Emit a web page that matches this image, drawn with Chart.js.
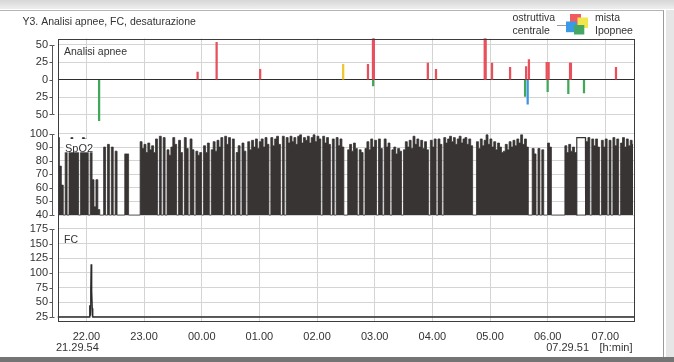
<!DOCTYPE html>
<html>
<head>
<meta charset="utf-8">
<script src="https://cdn.jsdelivr.net/npm/chart.js@4.4.1/dist/chart.umd.min.js"></script>
<style>
  html, body { margin: 0; padding: 0; background: #fff; }
  #wrap { position: relative; width: 674px; height: 362px; overflow: hidden; background: #fff; }
  .topband { position: absolute; left: 0; top: 0; width: 674px; height: 9px; background: linear-gradient(#d6d6d6, #eeeeee); }
  .frame { position: absolute; left: -2px; top: 10px; width: 665px; height: 352px; border-top: 1px solid #b4b4b4; border-right: 1px solid #9a9a9a; }
  .side { position: absolute; left: 666px; top: 10px; width: 8px; height: 352px; background: #e6e6e6; }
  .bottomband { position: absolute; left: 0; top: 357px; width: 674px; height: 5px; background: #747474; }
  canvas { position: absolute; left: 0; top: 0; }
</style>
</head>
<body>
<div id="wrap">
  <div class="topband"></div>
  <div class="frame"></div>
  <div class="side"></div>
  <div class="bottomband"></div>
  <canvas id="chart" width="674" height="362"></canvas>
</div>
<script>
// time axis, minutes from the start of the recording
const spanMinutes = 599.95;           // 21.29.54 -> 07.29.51
const firstHourAt = 30.1;             // 22.00
const hourLabels = ['22.00', '23.00', '00.00', '01.00', '02.00', '03.00', '04.00', '05.00', '06.00', '07.00'];
const startLabel = '21.29.54';
const endLabel = '07.29.51';
const unitLabel = '[h:min]';

const apneaTicks = [-50, -25, 0, 25, 50];
const spo2Ticks = [40, 50, 60, 70, 80, 90, 100];
const fcTicks = [25, 50, 75, 100, 125, 150, 175];

// apnea events: time (min), duration (s); central / hypopnea drawn below zero
const ostruttivaTime = [145.8, 165.6, 210.9, 323.1, 328.3, 329.2, 385.4, 393.9, 444.6, 445.6, 452.2, 471.0, 487.7, 490.6, 509.1, 511.1, 533.4, 534.3, 581.2];
const ostruttivaSec = [11, 54, 15, 22, 70, 70, 24, 15, 70, 70, 24, 18, 19, 29, 25, 25, 24, 24, 18];
const mistaTime = [297.3];
const mistaSec = [22];
const centraleTime = [489.3];
const centraleSec = [-35];
const ipopneeTime = [43.3, 328.5, 486.6, 510.1, 531.6, 547.9];
const ipopneeSec = [-59, -9, -24, -17, -20, -19];

// SpO2 (%), one reading every 2 minutes
const spo2Step = 2;
const spo2 = [
  97, 76, 62, 40, 90, 40, 89, 97, 88, 90,
  89, 40, 91, 97, 96, 88, 40, 89, 66, 46,
  66, 44, 40, 40, 90, 40, 92, 40, 90, 40,
  87, 40, 40, 40, 40, 85, 85, 40, 40, 40,
  40, 40, 40, 94, 89, 92, 86, 93, 88, 91,
  86, 96, 40, 98, 40, 97, 40, 88, 84, 90,
  97, 92, 40, 95, 86, 40, 97, 89, 40, 96,
  88, 40, 87, 84, 86, 40, 91, 86, 93, 40,
  88, 94, 87, 95, 90, 97, 40, 98, 92, 97,
  40, 96, 40, 86, 91, 40, 93, 87, 40, 94,
  88, 95, 90, 96, 89, 94, 96, 90, 97, 92,
  40, 97, 91, 96, 98, 92, 40, 98, 40, 97,
  93, 98, 94, 97, 92, 98, 99, 93, 97, 95,
  98, 93, 97, 99, 94, 98, 96, 40, 98, 93,
  97, 92, 40, 96, 40, 97, 91, 96, 90, 40,
  40, 88, 92, 87, 93, 89, 40, 88, 86, 40,
  89, 94, 88, 96, 90, 95, 40, 96, 89, 40,
  96, 90, 93, 40, 88, 90, 85, 89, 87, 40,
  88, 94, 90, 95, 89, 98, 92, 96, 90, 95,
  89, 94, 88, 40, 95, 90, 96, 40, 96, 92,
  40, 97, 93, 96, 98, 94, 97, 92, 96, 98,
  93, 96, 97, 92, 96, 91, 40, 40, 94, 89,
  96, 91, 95, 99, 92, 96, 90, 94, 88, 93,
  90, 86, 87, 92, 88, 94, 90, 95, 91, 96,
  93, 99, 92, 96, 90, 40, 40, 89, 85, 40,
  89, 40, 88, 40, 40, 93, 90, 40, 40, 40,
  40, 40, 40, 40, 91, 86, 92, 87, 90, 86,
  40, 40, 40, 40, 40, 94, 97, 40, 96, 91,
  96, 90, 40, 95, 90, 96, 40, 95, 40, 97,
  91, 96, 40, 93, 97, 90, 96, 91, 95, 92
];
// stretch where the oximeter holds its last value
const spo2HoldTime = [540.2, 540.4, 549.4, 549.6];
const spo2HoldValue = [40, 97, 97, 40];

// heart rate (bpm)
const fcTime = [0, 32.8, 33.3, 33.8, 34.2, 34.6, 35.0, 35.4, 35.8, 36.2, 36.7, spanMinutes];
const fcValue = [25, 25, 30, 45, 28, 72, 115, 60, 70, 40, 25, 25];

const FONT = "'Liberation Sans', Arial, sans-serif";
const INK = '#333';
const GRID = '#d4d4d4';
const TRACE = '#383434';

Chart.defaults.font.family = FONT;
Chart.defaults.font.size = 11;
Chart.defaults.color = INK;

const pairs = (xs, ys) => xs.map((x, i) => ({ x, y: ys[i] }));

const events = (label, xs, ys, color) => ({
  type: 'bar',
  label,
  yAxisID: 'yA',
  data: pairs(xs, ys),
  backgroundColor: color,
  borderWidth: 0,
  barThickness: 1.6,
  grouped: false,
});

const yAxis = (ticks, min, max, weight, gridColor) => ({
  type: 'linear',
  position: 'left',
  stack: 'panels',
  stackWeight: weight,
  min,
  max,
  afterBuildTicks: (s) => { s.ticks = ticks.map((v) => ({ value: v })); },
  afterFit: (s) => { s.width = 57.5; },
  ticks: { autoSkip: false, padding: 9.5, callback: (v) => Math.abs(v) },
  grid: { color: gridColor || GRID, drawTicks: false },
  border: { display: false },
});

const panelDecor = {
  id: 'panelDecor',
  afterDatasetsDraw(chart) {
    const { ctx, chartArea: a, scales } = chart;
    ctx.save();
    ctx.font = '10.5px ' + FONT;
    ctx.fillStyle = INK;
    ctx.textBaseline = 'middle';
    ctx.textAlign = 'left';
    ctx.fillText('Analisi apnee', a.left + 6.5, scales.yA.top + 13.5);
    ctx.fillText('FC', a.left + 6.5, scales.yF.top + 18);
    // the SpO2 label sits on a white box over the trace
    ctx.fillStyle = '#fff';
    ctx.fillRect(a.left + 6, scales.yS.top + 15, 30, 13.3);
    ctx.fillStyle = INK;
    ctx.font = '11px ' + FONT;
    ctx.fillText('SpO2', a.left + 7.5, scales.yS.top + 24.5);
    // plot frame
    ctx.strokeStyle = '#3c3c3c';
    ctx.lineWidth = 1;
    ctx.strokeRect(Math.round(a.left) + 0.5, Math.round(a.top) + 0.5, Math.round(a.width) - 1, Math.round(a.height) - 1);
    ctx.restore();
  },
  afterDraw(chart) {
    const { ctx, chartArea: a, scales } = chart;
    ctx.save();
    // bracket style value axes
    ctx.strokeStyle = '#555';
    ctx.lineWidth = 1;
    const x0 = Math.round(a.left - 5.5) + 0.5;
    for (const id of ['yA', 'yS', 'yF']) {
      const s = scales[id];
      const px = s.ticks.map((t) => Math.round(s.getPixelForValue(t.value)) + 0.5);
      const top = Math.min(...px);
      const bot = Math.max(...px);
      ctx.beginPath();
      ctx.moveTo(x0 + 2, top);
      ctx.lineTo(x0, top);
      ctx.lineTo(x0, bot);
      ctx.lineTo(x0 + 2, bot);
      for (const p of px) {
        ctx.moveTo(x0 - 3, p);
        ctx.lineTo(x0, p);
      }
      ctx.stroke();
    }

    ctx.fillStyle = INK;
    ctx.textBaseline = 'middle';
    ctx.font = '10.5px ' + FONT;
    ctx.textAlign = 'left';
    ctx.fillText('Y3. Analisi apnee, FC, desaturazione', 22.5, 22.5);

    // legend
    const names = chart.data.datasets.slice(0, 4).map((d) => d.label);
    ctx.fillText(names[0], 512.5, 18.5);
    ctx.fillText(names[2], 512.5, 31.5);
    ctx.fillText(names[1], 595, 18.5);
    ctx.fillText(names[3], 595, 31.5);
    ctx.strokeStyle = '#9a9a9a';
    ctx.beginPath();
    ctx.moveTo(557, 25.5);
    ctx.lineTo(567, 25.5);
    ctx.stroke();
    ctx.fillStyle = '#ef5b5e'; ctx.fillRect(570, 14, 11, 11);
    ctx.fillStyle = '#f2e64a'; ctx.fillRect(577.5, 17.5, 10.5, 10.5);
    ctx.fillStyle = '#3a9ae6'; ctx.fillRect(566, 21.5, 10.7, 10.7);
    ctx.fillStyle = '#45a862'; ctx.fillRect(574, 25, 10.3, 9.5);

    // start / end of the recording
    ctx.fillStyle = INK;
    ctx.font = '11px ' + FONT;
    ctx.textAlign = 'left';
    ctx.fillText(startLabel, a.left - 1.5, 347.5);
    ctx.textAlign = 'right';
    ctx.fillText(endLabel, a.right - 45, 347.5);
    ctx.fillText(unitLabel, a.right - 1.5, 347.5);
    ctx.restore();
  },
};

new Chart(document.getElementById('chart'), {
  type: 'line',
  data: {
    datasets: [
      events('ostruttiva', ostruttivaTime, ostruttivaSec, '#e8505c'),
      events('mista', mistaTime, mistaSec, '#efc72c'),
      events('centrale', centraleTime, centraleSec, '#3d95e3'),
      events('Ipopnee', ipopneeTime, ipopneeSec, '#41a85a'),
      {
        label: 'SpO2',
        yAxisID: 'yS',
        data: spo2.map((v, i) => ({ x: spo2Step * i + spo2Step / 2, y: v })),
        stepped: 'middle',
        borderColor: TRACE,
        backgroundColor: TRACE,
        borderWidth: 0.8,
        pointRadius: 0,
        fill: { value: 40 },
      },
      {
        label: 'SpO2 hold',
        yAxisID: 'yS',
        data: pairs(spo2HoldTime, spo2HoldValue),
        borderColor: TRACE,
        borderWidth: 1.2,
        pointRadius: 0,
        fill: false,
      },
      {
        label: 'FC',
        yAxisID: 'yF',
        data: pairs(fcTime, fcValue),
        borderColor: '#2a2a2a',
        borderWidth: 1.3,
        pointRadius: 0,
        fill: false,
      },
    ],
  },
  options: {
    responsive: false,
    animation: false,
    layout: { padding: { left: 0, right: 40, top: 38.5, bottom: 0 } },
    plugins: { legend: { display: false }, title: { display: false }, tooltip: { enabled: false } },
    scales: {
      x: {
        type: 'linear',
        min: 0,
        max: spanMinutes,
        offset: false,
        afterBuildTicks: (s) => { s.ticks = hourLabels.map((_, i) => ({ value: firstHourAt + 60 * i })); },
        afterFit: (s) => { s.height = 40.5; },
        ticks: { autoSkip: false, maxRotation: 0, padding: 9, callback: (v, i) => hourLabels[i] },
        grid: { color: GRID, drawTicks: false, offset: false },
        border: { display: false },
      },
      yF: yAxis(fcTicks, 17.3, 186.9, 99.5),
      yS: yAxis(spo2Ticks, 34.85, 107, 98),
      yA: yAxis(apneaTicks, -63.7, 59.35, 85.5, (c) => (c.tick && c.tick.value === 0 ? '#2e2e2e' : GRID)),
    },
  },
  plugins: [panelDecor],
});
</script>
</body>
</html>
